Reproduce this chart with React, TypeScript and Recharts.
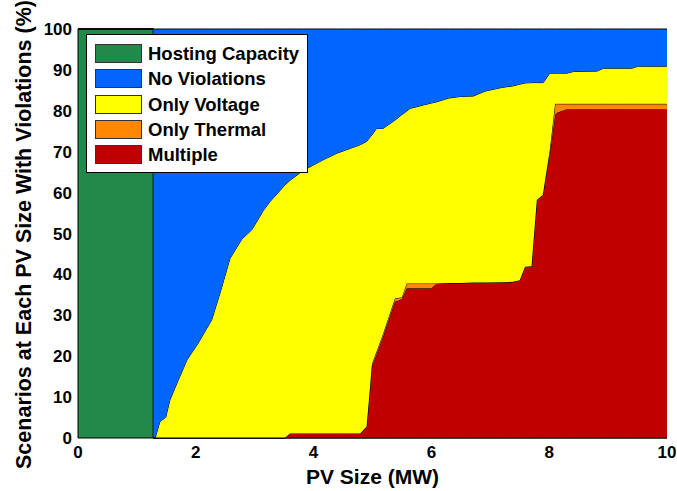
import React from "react"
import { Area, ComposedChart, XAxis, YAxis, Label } from "recharts"

// PV size (MW) sample points
const pvSize = [
  0, 1.28, 1.28, 1.31, 1.39, 1.49, 1.56, 1.68, 1.85, 2.04, 2.27, 2.41, 2.58, 2.78, 2.95, 3.15, 3.26, 3.51, 3.6,
  3.83, 4.16, 4.39, 4.62, 4.79, 4.9, 4.96, 4.99, 5.07, 5.18, 5.35, 5.38, 5.5, 5.58, 5.64, 5.86, 6.0, 6.09, 6.29,
  6.49, 6.71, 6.91, 7.19, 7.39, 7.5, 7.59, 7.7, 7.79, 7.89, 7.9, 8.01, 8.1, 8.13, 8.3, 8.41, 8.81, 8.92, 9.4,
  9.51, 10,
]

// % of scenarios in each category
const hostingCapacity = [
  100, 100, 0, 0, 0, 0, 0, 0, 0, 0, 0, 0, 0, 0, 0, 0, 0, 0, 0, 0, 0, 0, 0, 0, 0, 0, 0, 0, 0, 0, 0, 0, 0, 0, 0, 0,
  0, 0, 0, 0, 0, 0, 0, 0, 0, 0, 0, 0, 0, 0, 0, 0, 0, 0, 0, 0, 0, 0, 0,
]
const multiple = [
  0, 0, 0, 0, 0, 0, 0, 0, 0, 0, 0, 0, 0, 0, 0, 0, 0, 0, 1.1, 1.1, 1.1, 1.1, 1.1, 1.1, 2.8, 12.5, 17.4, 20.5, 24.8,
  32.0, 33.3, 34.0, 36.6, 36.6, 36.6, 36.6, 37.8, 37.9, 37.9, 38.0, 38.0, 38.1, 38.2, 38.6, 41.9, 42.0, 58.2, 59.4,
  60.2, 69.4, 79.0, 79.5, 80.4, 80.4, 80.4, 80.4, 80.4, 80.4, 80.4,
]
const onlyThermal = [
  0, 0, 0, 0, 0, 0, 0, 0, 0, 0, 0, 0, 0, 0, 0, 0, 0, 0, 0, 0, 0, 0, 0, 0, 0, 0.3, 0.7, 0.7, 0.7, 0.8, 0.8, 0.4,
  1.2, 1.2, 1.2, 1.2, 0, 0, 0, 0, 0, 0, 0, 0, 0, 0, 0, 0, 0, 1.0, 2.7, 2.2, 1.3, 1.3, 1.3, 1.3, 1.3, 1.3, 1.3,
]
const onlyVoltage = [
  0, 0, 0, 0, 4.0, 5.1, 9.3, 13.4, 19.1, 23.2, 28.9, 35.4, 43.9, 48.6, 50.9, 55.7, 57.8, 61.8, 61.9, 64.4, 66.9,
  68.5, 69.7, 70.6, 69.7, 60.8, 56.0, 54.5, 50.2, 44.6, 43.6, 44.7, 42.1, 42.8, 43.6, 44.1, 44.4, 45.2, 45.6, 45.6,
  46.8, 47.6, 47.9, 47.9, 44.9, 44.9, 28.7, 27.5, 26.7, 18.8, 7.5, 7.5, 7.5, 7.9, 8.0, 8.7, 8.7, 9.2, 9.2,
]
const noViolations = [
  0, 0, 100, 100, 96.0, 94.9, 90.7, 86.6, 80.9, 76.8, 71.1, 64.6, 56.1, 51.4, 49.1, 44.3, 42.2, 38.2, 37.0, 34.5,
  32.0, 30.4, 29.2, 28.3, 27.5, 26.4, 25.9, 24.3, 24.3, 22.6, 22.3, 20.9, 20.1, 19.4, 18.6, 18.1, 17.8, 16.9, 16.5,
  16.4, 15.2, 14.3, 13.9, 13.5, 13.2, 13.1, 13.1, 13.1, 13.1, 10.8, 10.8, 10.8, 10.8, 10.4, 10.3, 9.6, 9.6, 9.1, 9.1,
]

const xTicks = [0, 2, 4, 6, 8, 10]
const yTicks = [0, 10, 20, 30, 40, 50, 60, 70, 80, 90, 100]

const data = pvSize.map((pv, i) => ({
  pv,
  hosting: hostingCapacity[i],
  multiple: multiple[i],
  thermal: onlyThermal[i],
  voltage: onlyVoltage[i],
  none: noViolations[i],
}))

const FONT = "'Liberation Sans', Arial, sans-serif"

const series = [
  { key: "hosting", name: "Hosting Capacity", color: "#22894b" },
  { key: "multiple", name: "Multiple", color: "#c00000" },
  { key: "thermal", name: "Only Thermal", color: "#ff8800" },
  { key: "voltage", name: "Only Voltage", color: "#ffff00" },
  { key: "none", name: "No Violations", color: "#0066ff" },
]

const legendOrder = ["hosting", "none", "voltage", "thermal", "multiple"]

const tickStyle = { fontFamily: FONT, fontSize: 17, fontWeight: 700, fill: "#000" }

export default function App() {
  return (
    <div style={{ position: "absolute", left: 0, top: 0, width: 677, height: 491, background: "#fff" }}>
      <ComposedChart width={677} height={491} data={data} margin={{ top: 29, right: 10, left: 0, bottom: 0 }}>
        <XAxis
          dataKey="pv"
          type="number"
          domain={[0, 10]}
          ticks={xTicks}
          height={53}
          tickLine={false}
          axisLine={{ stroke: "#000" }}
          tick={tickStyle}
          interval={0}
        >
          <Label
            content={({ viewBox }: any) => (
              <text
                x={viewBox.x + viewBox.width / 2}
                y={viewBox.y + 38}
                textAnchor="middle"
                dominantBaseline="central"
                style={{ fontFamily: FONT, fontSize: 21, fontWeight: 700, fill: "#000" }}
              >
                PV Size (MW)
              </text>
            )}
          />
        </XAxis>
        <YAxis
          type="number"
          domain={[0, 100]}
          ticks={yTicks}
          width={78}
          tickLine={false}
          axisLine={{ stroke: "#000" }}
          tick={tickStyle}
          tickMargin={0}
          interval={0}
        >
          <Label
            content={({ viewBox }: any) => {
              const cx = 24
              const cy = viewBox.y + viewBox.height / 2 + 1
              return (
                <text
                  x={cx}
                  y={cy}
                  transform={`rotate(-90 ${cx} ${cy})`}
                  textAnchor="middle"
                  dominantBaseline="central"
                  style={{ fontFamily: FONT, fontSize: 21.5, fontWeight: 700, fill: "#000" }}
                >
                  Scenarios at Each PV Size With Violations (%)
                </text>
              )
            }}
          />
        </YAxis>
        <YAxis
          yAxisId="right"
          orientation="right"
          type="number"
          domain={[0, 100]}
          width={0}
          tick={false}
          tickLine={false}
          axisLine={{ stroke: "#777" }}
        />
        {series.map((s) => (
          <Area
            key={s.key}
            type="linear"
            dataKey={s.key}
            name={s.name}
            stackId="1"
            fill={s.color}
            fillOpacity={1}
            stroke="#000"
            strokeWidth={1}
            dot={false}
            activeDot={false}
            isAnimationActive={false}
          />
        ))}
      </ComposedChart>
      <div
        style={{
          position: "absolute",
          left: 86,
          top: 34,
          width: 220,
          height: 131,
          border: "1px solid #000",
          background: "#fff",
          fontFamily: FONT,
          fontWeight: 700,
          fontSize: 18.5,
          paddingTop: 6,
          boxSizing: "content-box",
        }}
      >
        {legendOrder.map((k) => {
          const s = series.find((x) => x.key === k)!
          return (
            <div key={k} style={{ display: "flex", alignItems: "center", height: 25.3, paddingLeft: 8 }}>
              <div
                style={{
                  width: 45,
                  height: 17,
                  background: s.color,
                  border: "1px solid #333",
                  marginRight: 6,
                }}
              />
              <span style={{ lineHeight: "19px" }}>{s.name}</span>
            </div>
          )
        })}
      </div>
    </div>
  )
}
